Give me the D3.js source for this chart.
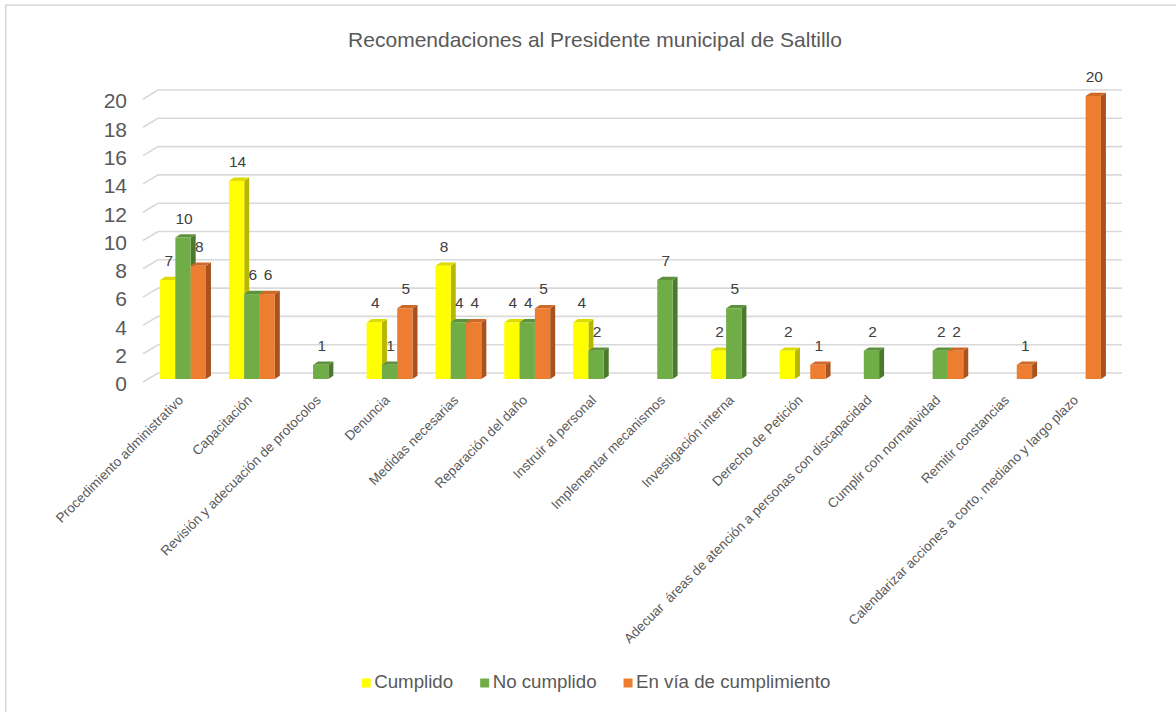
<!DOCTYPE html>
<html>
<head>
<meta charset="utf-8">
<script src="https://cdn.jsdelivr.net/npm/d3@7"></script>
<style>
  html, body { margin: 0; padding: 0; background: #ffffff; }
  svg { display: block; font-family: "Liberation Sans", Arial, sans-serif; }
</style>
</head>
<body>
<svg id="chart" width="1176" height="712"></svg>
<script>
const categories = [
  "Procedimiento administrativo",
  "Capacitación",
  "Revisión y adecuación de protocolos",
  "Denuncia",
  "Medidas necesarias",
  "Reparación del daño",
  "Instruir al personal",
  "Implementar mecanismos",
  "Investigación interna",
  "Derecho de Petición",
  "Adecuar  áreas de atención a personas con discapacidad",
  "Cumplir con normatividad",
  "Remitir constancias",
  "Calendarizar acciones a corto, mediano y largo plazo"
];
const seriesNames = ["Cumplido", "No cumplido", "En vía de cumplimiento"];
const cumplido    = [7, 14, null, 4, 8, 4, 4, null, 2, 2, null, null, null, null];
const noCumplido  = [10, 6, 1, 1, 4, 4, 2, 7, 5, null, 2, 2, null, null];
const enVia       = [8, 6, null, 5, 4, 5, null, null, null, 1, null, 2, 1, 20];
const yTicks = [0, 2, 4, 6, 8, 10, 12, 14, 16, 18, 20];
const title = "Recomendaciones al Presidente municipal de Saltillo";

const seriesValues = [cumplido, noCumplido, enVia];
const colors = [
  { front: "#FFFF00", side: "#B8B800", top: "#DCDC00" },
  { front: "#70AD47", side: "#4B7A2E", top: "#5E913B" },
  { front: "#ED7D31", side: "#A8531F", top: "#CF6927" }
];

const svg = d3.select("#chart");

// border (top & left visible; right/bottom run off the picture)
svg.append("rect").attr("x", 5.8).attr("y", 5.2).attr("width", 1200).attr("height", 740)
  .attr("fill", "#fff").attr("stroke", "#D9D9D9").attr("stroke-width", 1.6);

// title
svg.append("text").attr("x", 595).attr("y", 47).attr("text-anchor", "middle")
  .attr("font-size", 21).attr("fill", "#595959").text(title);

// scales
const x0 = d3.scaleBand().domain(categories).range([148.6, 1112.4]).paddingInner(0).paddingOuter(0);
const barW = 15.3;
const yBack = d3.scaleLinear().domain([0, 20]).range([373, 90]);
const frontShift = 6;
const depthX = 5, depthY = 3.3;
const wallX = 15, wallY = 9;
const gx0 = 158, gx1 = 1122;

// gridlines
const grid = svg.append("g");
yTicks.forEach(t => {
  const yy = yBack(t);
  grid.append("path")
    .attr("d", `M${gx0 - wallX},${yy + wallY}L${gx0},${yy}L${gx1},${yy}`)
    .attr("fill", "none").attr("stroke", "#D9D9D9").attr("stroke-width", 1.6);
});

// y axis labels
svg.append("g").selectAll("text").data(yTicks).join("text")
  .attr("x", 127).attr("y", d => yBack(d) + wallY + 2)
  .attr("dy", "0.35em").attr("text-anchor", "end")
  .attr("font-size", 21).attr("fill", "#595959").text(d => d);

// bars
const barsG = svg.append("g");
const labelsG = svg.append("g");
categories.forEach((c, i) => {
  const gStart = x0(c) + x0.bandwidth() / 2 - barW * 1.5;
  seriesValues.forEach((vals, s) => {
    const v = vals[i];
    if (v == null) return;
    const xL = gStart + s * barW, xR = xL + barW;
    const yT = yBack(v) + frontShift, yB = yBack(0) + frontShift;
    const col = colors[s];
    barsG.append("path")
      .attr("d", `M${xR},${yB}L${xR + depthX},${yB - depthY}L${xR + depthX},${yT - depthY}L${xR},${yT}Z`)
      .attr("fill", col.side);
    barsG.append("path")
      .attr("d", `M${xL},${yT}L${xL + depthX},${yT - depthY}L${xR + depthX},${yT - depthY}L${xR},${yT}Z`)
      .attr("fill", col.top);
    barsG.append("rect").attr("x", xL).attr("y", yT).attr("width", barW).attr("height", yB - yT)
      .attr("fill", col.front);
    labelsG.append("text").attr("x", (xL + xR) / 2 + 1).attr("y", yT - 14)
      .attr("text-anchor", "middle").attr("font-size", 15.5).attr("fill", "#404040").text(v);
  });
});

// category labels
svg.append("g").selectAll("text").data(categories).join("text")
  .attr("transform", d => `translate(${x0(d) + x0.bandwidth() / 2 + 1},401) rotate(-45)`)
  .attr("text-anchor", "end").attr("font-size", 13.5).attr("fill", "#595959")
  .attr("xml:space", "preserve").style("white-space", "pre")
  .text(d => d);

// legend
const legend = svg.append("g");
const items = seriesNames.map((n, s) => {
  const g = legend.append("g");
  g.append("rect").attr("width", 9).attr("height", 9).attr("y", -9.5).attr("fill", colors[s].front);
  const t = g.append("text").attr("x", 12.5).attr("y", 0).attr("font-size", 18.7).attr("fill", "#595959").text(n);
  return { g, w: 12.5 + t.node().getComputedTextLength() };
});
const gap = 27;
const total = d3.sum(items, d => d.w) + gap * (items.length - 1);
let lx = 596 - total / 2;
items.forEach(it => { it.g.attr("transform", `translate(${lx},688)`); lx += it.w + gap; });
</script>
</body>
</html>
